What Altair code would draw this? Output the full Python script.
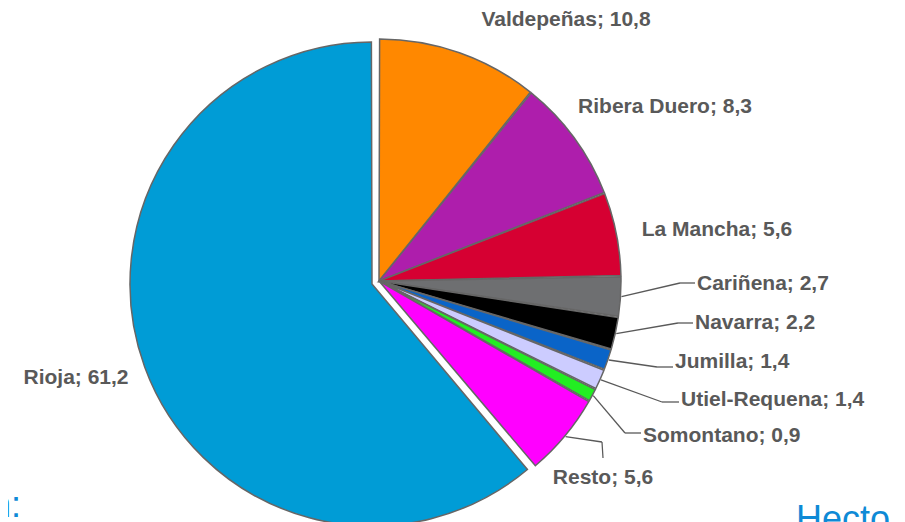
import math
import altair as alt
import pandas as pd

# ---- data ----
names = ["Valdepeñas", "Ribera Duero", "La Mancha", "Cariñena", "Navarra",
         "Jumilla", "Utiel-Requena", "Somontano", "Resto", "Rioja"]
values = [10.8, 8.3, 5.6, 2.7, 2.2, 1.4, 1.4, 0.9, 5.6, 61.2]
colors = ["#FF8800", "#AE1EAC", "#D60032", "#6E6F71", "#000000",
          "#0A64C8", "#CCCCFF", "#22EE22", "#FF00FF", "#009CD6"]
fragments_left = ["n:"]
fragments_right = ["Hecto"]

# ---- layout (chart pixel coordinates; page = chart + 8) ----
W, H = 889, 514
CX, CY, R = 371, 273, 242
RIOJA_DX, RIOJA_DY = -7, 3
TEXT_COLOR = "#595959"
FONT = "Liberation Sans"

# label anchors (x, y, align) and leader elbows/ends
label_pos = {
    "Valdepeñas": (558, 12, "center"),
    "Ribera Duero": (657, 99, "center"),
    "La Mancha": (709, 222, "center"),
    "Cariñena": (689, 276, "left"),
    "Navarra": (687, 315, "left"),
    "Jumilla": (667, 354, "left"),
    "Utiel-Requena": (673, 392, "left"),
    "Somontano": (635, 428, "left"),
    "Resto": (595, 470, "center"),
    "Rioja": (68, 370, "center"),
}
leader_pts = {
    "Cariñena": (672, 275, 687, 275),
    "Navarra": (670, 315, 685, 315),
    "Jumilla": (649, 359, 665, 359),
    "Utiel-Requena": (654, 394, 671, 394),
    "Somontano": (617, 425, 633, 425),
    "Resto": (594, 434, 595, 450),
}

total = sum(values)
rows = []
for i, (n, v) in enumerate(zip(names, values)):
    lx, ly, al = label_pos[n]
    lp = leader_pts.get(n)
    rows.append({
        "order": i, "name": n, "value": v,
        "label": f"{n}; {v:.1f}".replace(".", ","),
        "lx": lx, "ly": ly, "align": al,
        "bx": lp[0] if lp else None, "by": lp[1] if lp else None,
        "tx": lp[2] if lp else None, "ty": lp[3] if lp else None,
    })
df = pd.DataFrame(rows)

base = alt.Chart(df).transform_window(
    cum="sum(value)", sort=[alt.SortField("order")], frame=[None, 0]
).transform_calculate(
    start="datum.cum - datum.value",
    mid=f"(datum.cum - datum.value/2) / {total} * 2 * PI",
).transform_calculate(
    ex=f"{CX} + {R + 1} * sin(datum.mid)",
    ey=f"{CY} - {R + 1} * cos(datum.mid)",
)

theta = alt.Theta("start:Q", stack=None,
                  scale=alt.Scale(domain=[0, total], range=[0, 2 * math.pi]))
color = alt.Color("name:N", scale=alt.Scale(domain=names, range=colors), legend=None)

arc_kw = dict(radius=R, stroke="#666666", strokeWidth=1.5, padAngle=0.005)

slices = base.transform_filter("datum.name != 'Rioja'").mark_arc(**arc_kw).encode(
    theta=theta, theta2="cum:Q", color=color,
    x=alt.value(CX), y=alt.value(CY),
)
rioja = base.transform_filter("datum.name == 'Rioja'").mark_arc(**arc_kw).encode(
    theta=theta, theta2="cum:Q", color=color,
    x=alt.value(CX + RIOJA_DX), y=alt.value(CY + RIOJA_DY),
)

lead1 = base.transform_filter("isValid(datum.bx)").mark_rule(
    color=TEXT_COLOR, strokeWidth=1.3
).encode(
    x=alt.X("ex:Q", scale=None), y=alt.Y("ey:Q", scale=None),
    x2="bx:Q", y2="by:Q",
)
lead2 = base.transform_filter("isValid(datum.bx)").mark_rule(
    color=TEXT_COLOR, strokeWidth=1.3
).encode(
    x=alt.X("bx:Q", scale=None), y=alt.Y("by:Q", scale=None),
    x2="tx:Q", y2="ty:Q",
)

txt_kw = dict(font=FONT, fontSize=21, fontWeight="bold", color=TEXT_COLOR,
              baseline="middle")
labels_c = base.transform_filter("datum.align == 'center'").mark_text(
    align="center", **txt_kw
).encode(x=alt.X("lx:Q", scale=None), y=alt.Y("ly:Q", scale=None), text="label:N")
labels_l = base.transform_filter("datum.align == 'left'").mark_text(
    align="left", **txt_kw
).encode(x=alt.X("lx:Q", scale=None), y=alt.Y("ly:Q", scale=None), text="label:N")

frag_l = alt.Chart(pd.DataFrame({"t": fragments_left})).mark_text(
    font=FONT, fontSize=36, color="#0E8AD6", align="right", baseline="alphabetic"
).encode(text="t:N", x=alt.value(13), y=alt.value(509))
frag_r = alt.Chart(pd.DataFrame({"t": fragments_right})).mark_text(
    font=FONT, fontSize=36, color="#0E8AD6", align="left", baseline="alphabetic"
).encode(text="t:N", x=alt.value(788), y=alt.value(523))

chart = alt.layer(
    slices, rioja, lead1, lead2, labels_c, labels_l, frag_l, frag_r
).properties(
    width=W, height=H, padding=0, background="white",
    autosize=alt.AutoSizeParams(type="none"),
).configure_view(stroke=None, strokeWidth=0)

chart.save("out.html", embed_options={"renderer": "svg", "actions": False})
